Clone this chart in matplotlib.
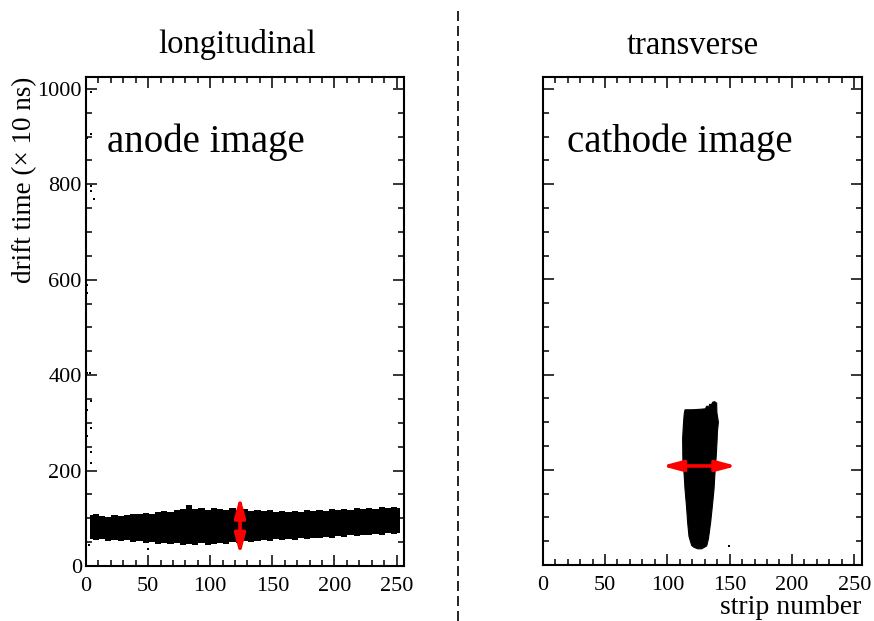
import numpy as np
import matplotlib
matplotlib.use("Agg")
import matplotlib.pyplot as plt
from matplotlib.lines import Line2D

plt.rcParams['font.family'] = ['Liberation Serif', 'DejaVu Serif']

# ---- anode image (longitudinal): drift time band vs strip ----
anode_strip = np.arange(3, 256, 5)
anode_top = [106, 108, 104, 103, 106, 104, 107, 109, 108, 112,
             110, 114, 116, 113, 117, 119, 127, 119, 121, 118,
             122, 119, 117, 121, 118, 119, 116, 118, 115, 117,
             114, 116, 113, 116, 114, 117, 115, 118, 116, 119,
             117, 120, 118, 121, 119, 122, 120, 123, 121, 124, 122]
anode_bot = [57, 54, 56, 53, 55, 52, 54, 50, 52, 49,
             51, 47, 49, 46, 48, 44, 47, 45, 48, 44,
             47, 49, 47, 51, 49, 52, 50, 53, 55, 53,
             56, 54, 57, 55, 58, 56, 59, 58, 61, 59,
             62, 61, 64, 62, 65, 64, 67, 66, 69, 67, 70]

# stray hits near the first strips
noise_strip = [4.3, 4.3, 0.8, 4.3, 4.3, 6.2, 0.8, 0.8, 3.5, 0.8,
               4.3, 0.8, 4.3, 0.8, 4.3, 4.3, 2.7, 50.0]
noise_time = [993, 905, 898, 797, 786, 769, 590, 573, 405, 405,
              345, 328, 289, 272, 240, 216, 44, 36]

# ---- cathode image (transverse): outline of the hit cluster ----
cath_strip = [124.5, 121.5, 119.6, 118.4, 117.4, 116.3, 115.5, 114.2, 113.5,
              112.5, 112.3, 112.8, 113.2, 113.6, 114.2, 120.0, 126.0, 130.5,
              131.8, 133.0, 134.2, 135.2, 136.5, 138.0, 139.6, 139.8, 141.0,
              140.2, 140.0, 139.3, 138.4, 137.5, 136.4, 134.8, 133.0, 131.6,
              127.6]
cath_time = [34, 37, 41, 51, 60, 90, 120, 160, 190,
             220, 265, 290, 305, 318, 326, 326, 327, 328,
             334, 331, 338, 336, 342, 343, 340, 320, 300,
             280, 265, 230, 200, 160, 130, 90, 55, 40,
             34]
cath_dot = ([149.5], [40])

# resolution arrows
anode_arrow_x = 124
anode_arrow_y = (23, 146)
cath_arrow_y = 208
cath_arrow_x = (95.5, 155.7)

fig = plt.figure(figsize=(8.74, 6.21), dpi=100)
axl = fig.add_axes([86 / 874, 55 / 621, 318 / 874, 489 / 621])
axr = fig.add_axes([542.7 / 874, 56 / 621, 319 / 874, 488 / 621])

arrow_kw = dict(arrowstyle='<|-|>,head_length=0.6,head_width=0.16',
                color='#ff0000', lw=2.6, shrinkA=0, shrinkB=0,
                mutation_scale=20)

axl.fill_between(anode_strip, anode_bot, anode_top, step='mid',
                 color='black', lw=0)
axl.scatter(noise_strip, noise_time, s=3, marker='s', color='black', lw=0)
axl.annotate('', xy=(anode_arrow_x, anode_arrow_y[0]),
             xytext=(anode_arrow_x, anode_arrow_y[1]), arrowprops=arrow_kw)
axl.text(0.066, 0.847, 'anode image', transform=axl.transAxes,
         fontsize=28, va='baseline', ha='left')
axl.set_ylabel('drift time (× 10 ns)', fontsize=19.5, labelpad=0, loc='top')

axr.fill(cath_strip, cath_time, color='black', lw=0.8, ec='black')
axr.scatter(*cath_dot, s=3, marker='s', color='black', lw=0)
axr.annotate('', xy=(cath_arrow_x[0], cath_arrow_y),
             xytext=(cath_arrow_x[1], cath_arrow_y), arrowprops=arrow_kw)
axr.text(0.076, 0.847, 'cathode image', transform=axr.transAxes,
         fontsize=28, va='baseline', ha='left')

for ax in (axl, axr):
    ax.set_xlim(0, 256)
    ax.set_ylim(0, 1025)
    ax.set_xticks([0, 50, 100, 150, 200, 250])
    ax.set_xticks(np.arange(10, 256, 10), minor=True)
    ax.set_yticks([0, 200, 400, 600, 800, 1000])
    ax.set_yticks(np.arange(50, 1025, 50), minor=True)
    ax.tick_params(which='both', direction='in', top=True, right=True,
                   width=1.1, labelsize=16)
    ax.tick_params(which='major', length=8)
    ax.tick_params(which='minor', length=4)
    ax.tick_params(axis='x', pad=8)
    ax.tick_params(axis='y', pad=3)
    for sp in ax.spines.values():
        sp.set_linewidth(1.5)
axr.set_yticklabels([])

fig.text(237 / 874, 1 - 44 / 621, 'longitudinal', fontsize=23.5,
         ha='center', va='center')
fig.text(693 / 874, 1 - 46 / 621, 'transverse', fontsize=23.5,
         ha='center', va='center')
fig.text(861 / 874, 1 - 614 / 621, 'strip number', fontsize=20,
         ha='right', va='baseline')

fig.add_artist(Line2D([458 / 874, 458 / 874], [0, 1 - 10 / 621],
                      transform=fig.transFigure, color='black', lw=1.2,
                      dashes=(6, 3)))

fig.savefig('out.png', dpi=100)
